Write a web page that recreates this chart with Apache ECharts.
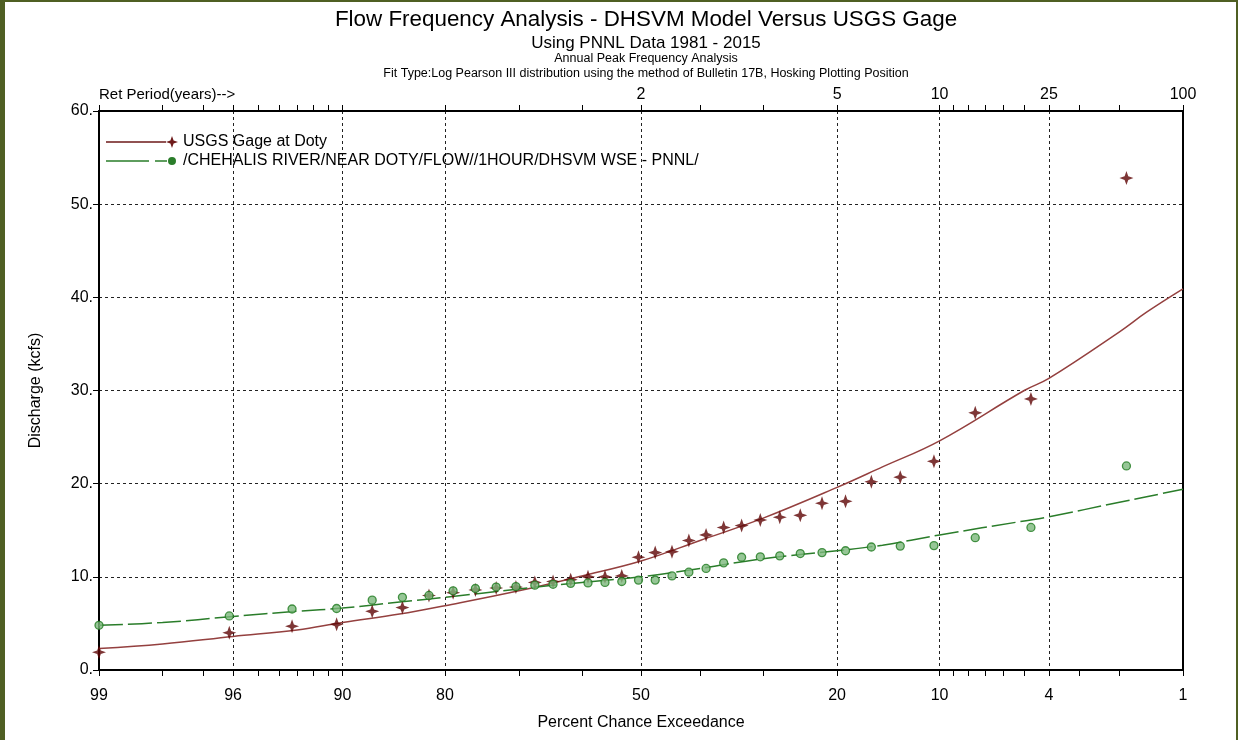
<!DOCTYPE html>
<html>
<head>
<meta charset="utf-8">
<script src="https://cdn.jsdelivr.net/npm/echarts@6/dist/echarts.min.js"></script>
<style>
  html, body { margin: 0; padding: 0; background: #ffffff; }
  #chart { width: 1238px; height: 740px; }
  .edge { position: absolute; background: #4f5f23; }
</style>
</head>
<body>
<div id="chart"></div>
<div class="edge" style="left:0;top:0;width:5px;height:740px"></div>
<div class="edge" style="left:0;top:0;width:1238px;height:2px"></div>
<div class="edge" style="left:1236px;top:0;width:2px;height:740px"></div>
<script>
  // plotting positions (percent chance exceedance), Hosking, 35 yrs
  const exceedance = [1.86, 4.71, 7.57, 10.43, 13.29, 16.14, 19.0, 21.86, 24.71, 27.57, 30.43, 33.29,
    36.14, 39.0, 41.86, 44.71, 47.57, 50.43, 53.29, 56.14, 59.0, 61.86, 64.71, 67.57, 70.43, 73.29,
    76.14, 79.0, 81.86, 84.71, 87.57, 90.43, 93.29, 96.14, 99.0]
  const usgsPeaks = [52.8, 29.1, 27.6, 22.4, 20.7, 20.2, 18.1, 17.9, 16.6, 16.4, 16.1, 15.5,
    15.3, 14.5, 13.9, 12.7, 12.6, 12.1, 10.1, 10.0, 10.0, 9.7, 9.5, 9.4, 8.9, 8.8,
    8.6, 8.3, 8.0, 6.7, 6.3, 4.9, 4.7, 4.0, 1.9]
  const dhsvmPeaks = [21.9, 15.3, 14.2, 13.35, 13.3, 13.2, 12.8, 12.6, 12.5, 12.25, 12.15, 12.1,
    11.5, 10.9, 10.5, 10.1, 9.65, 9.65, 9.5, 9.4, 9.35, 9.3, 9.2, 9.1, 8.95, 8.9,
    8.75, 8.5, 8.0, 7.8, 7.5, 6.6, 6.55, 5.8, 4.8]

  // fitted LP3 curves read at these exceedances
  const curveExceed = [99, 98, 96, 93, 90, 85, 80, 70, 60, 50, 40, 30, 20, 15, 10, 5, 4, 2, 1.5, 1]
  const usgsCurve = [2.3, 2.8, 3.6, 4.3, 5.1, 6.0, 6.9, 8.5, 10.1, 11.7, 13.9, 16.3, 19.6, 21.8, 24.6, 30.0, 31.3, 36.3, 38.4, 40.9]
  const dhsvmCurve = [4.8, 5.1, 5.75, 6.3, 6.65, 7.3, 7.8, 8.7, 9.4, 10.0, 10.9, 11.95, 12.8, 13.4, 14.5, 16.0, 16.45, 18.0, 18.6, 19.4]

  // axis ticks
  const bottomLabels = [99, 96, 90, 80, 50, 20, 10, 4, 1]
  const allTicks = [99, 98, 97, 96, 95, 94, 93, 92, 91, 90, 80, 70, 60, 50, 40, 30, 20, 10, 9, 8, 7, 6, 5, 4, 3, 2, 1]
  const gridTicks = [96, 90, 80, 50, 20, 10, 4]
  const retPeriods = [2, 5, 10, 25, 100]

  // inverse standard normal (Acklam) -> probability scale
  function normInv (p) {
    const a = [-3.969683028665376e+01, 2.209460984245205e+02, -2.759285104469687e+02, 1.383577518672690e+02, -3.066479806614716e+01, 2.506628277459239e+00]
    const b = [-5.447609879822406e+01, 1.615858368580409e+02, -1.556989798598866e+02, 6.680131188771972e+01, -1.328068155288572e+01]
    const c = [-7.784894002430293e-03, -3.223964580411365e-01, -2.400758277161838e+00, -2.549732539343734e+00, 4.374664141464968e+00, 2.938163982698783e+00]
    const d = [7.784695709041462e-03, 3.224671290700398e-01, 2.445134137142996e+00, 3.754408661907416e+00]
    let q, r
    if (p < 0.02425) {
      q = Math.sqrt(-2 * Math.log(p))
      return (((((c[0] * q + c[1]) * q + c[2]) * q + c[3]) * q + c[4]) * q + c[5]) / ((((d[0] * q + d[1]) * q + d[2]) * q + d[3]) * q + 1)
    }
    if (p <= 1 - 0.02425) {
      q = p - 0.5
      r = q * q
      return (((((a[0] * r + a[1]) * r + a[2]) * r + a[3]) * r + a[4]) * r + a[5]) * q / (((((b[0] * r + b[1]) * r + b[2]) * r + b[3]) * r + b[4]) * r + 1)
    }
    q = Math.sqrt(-2 * Math.log(1 - p))
    return -(((((c[0] * q + c[1]) * q + c[2]) * q + c[3]) * q + c[4]) * q + c[5]) / ((((d[0] * q + d[1]) * q + d[2]) * q + d[3]) * q + 1)
  }
  const zOf = pct => normInv(1 - pct / 100)
  const nearest = (v, list, fn) => list.reduce((best, t) => Math.abs(fn(t) - v) < Math.abs(fn(best) - v) ? t : best, list[0])

  const pair = (xs, ys) => xs.map((p, i) => [zOf(p), ys[i]])

  const font = '"Liberation Sans", Arial, sans-serif'
  const starPath = 'path://M0,-10 L2.6,-2.6 L10,0 L2.6,2.6 L0,10 L-2.6,2.6 L-10,0 L-2.6,-2.6 Z'
  // legend icons: line sample with the marker at its right end (72 x 12 box)
  const usgsIcon = 'path://M0,0 M72,12 M0,5.3 L60,5.3 L60,6.7 L0,6.7 Z M66,0 L67.6,4.4 L72,6 L67.6,7.6 L66,12 L64.4,7.6 L60,6 L64.4,4.4 Z'
  const dhsvmIcon = 'path://M0,0 M72,12 M0,5.3 L43,5.3 L43,6.7 L0,6.7 Z M49,5.3 L61,5.3 L61,6.7 L49,6.7 Z M70,6 A4,4 0 1,1 62,6 A4,4 0 1,1 70,6 Z'
  const usgsName = 'USGS Gage at Doty'
  const dhsvmName = '/CHEHALIS RIVER/NEAR DOTY/FLOW//1HOUR/DHSVM WSE - PNNL/'

  const xMin = zOf(99)
  const xMax = zOf(1)

  const chart = echarts.init(document.getElementById('chart'), null, { renderer: 'canvas' })
  const option = {
    animation: false,
    backgroundColor: '#ffffff',
    textStyle: { fontFamily: font, color: '#000' },
    title: [
      { text: 'Flow Frequency Analysis - DHSVM Model Versus USGS Gage', left: 641, top: 4, textAlign: 'center',
        textStyle: { fontSize: 22.4, fontWeight: 'normal', fontFamily: font, color: '#000' } },
      { text: 'Using PNNL Data 1981 - 2015', left: 641, top: 30, textAlign: 'center',
        textStyle: { fontSize: 17, fontWeight: 'normal', fontFamily: font, color: '#000' } },
      { text: 'Annual Peak Frequency Analysis', left: 641, top: 47, textAlign: 'center',
        textStyle: { fontSize: 12.5, fontWeight: 'normal', fontFamily: font, color: '#000' } },
      { text: 'Fit Type:Log Pearson III distribution using the method of Bulletin 17B, Hosking Plotting Position', left: 641, top: 62, textAlign: 'center',
        textStyle: { fontSize: 12.5, fontWeight: 'normal', fontFamily: font, color: '#000' } },
      { text: 'Ret Period(years)-->', left: 94, top: 82,
        textStyle: { fontSize: 15, fontWeight: 'normal', fontFamily: font, color: '#000' } }
    ],
    legend: {
      orient: 'vertical',
      left: 101,
      top: 129,
      itemWidth: 72,
      itemHeight: 12,
      itemGap: 3,
      itemStyle: { borderWidth: 0 },
      data: [
        { name: usgsName, icon: usgsIcon, itemStyle: { color: '#6e1a1a', borderWidth: 0 } },
        { name: dhsvmName, icon: dhsvmIcon, itemStyle: { color: '#2a7d2a', borderWidth: 0 } }
      ],
      textStyle: { fontSize: 16, fontFamily: font, color: '#000' }
    },
    grid: { left: 99, right: 55, top: 111, bottom: 70 },
    xAxis: [
      {
        type: 'value', position: 'bottom', min: xMin, max: xMax,
        name: 'Percent Chance Exceedance', nameLocation: 'middle', nameGap: 45,
        nameTextStyle: { fontSize: 16, fontFamily: font, color: '#000' },
        axisLine: { onZero: false, lineStyle: { color: '#000', width: 2 } },
        axisTick: { customValues: allTicks.map(zOf), length: 6, lineStyle: { color: '#000' } },
        axisLabel: {
          customValues: bottomLabels.map(zOf), margin: 18, fontSize: 16, color: '#000',
          formatter: v => String(nearest(v, bottomLabels, zOf))
        },
        splitLine: { show: false }
      },
      {
        type: 'value', position: 'top', min: xMin, max: xMax,
        axisLine: { onZero: false, lineStyle: { color: '#000', width: 2 } },
        axisTick: { customValues: allTicks.map(zOf), length: 6, lineStyle: { color: '#000' } },
        axisLabel: {
          customValues: retPeriods.map(t => zOf(100 / t)), margin: 8, fontSize: 16, color: '#000',
          formatter: v => String(nearest(v, retPeriods, t => zOf(100 / t)))
        },
        splitLine: { show: false }
      },
      {
        type: 'value', min: xMin, max: xMax,
        axisLine: { show: false, onZero: false },
        axisTick: { show: false, customValues: gridTicks.map(zOf) },
        axisLabel: { show: false },
        splitLine: { show: true, lineStyle: { color: '#222', type: [3, 3], width: 1 } }
      }
    ],
    yAxis: [
      {
        type: 'value', min: 0, max: 60, interval: 10,
        name: 'Discharge (kcfs)', nameLocation: 'middle', nameGap: 55, nameRotate: 90,
        nameTextStyle: { fontSize: 16, fontFamily: font, color: '#000' },
        axisLine: { show: true, onZero: false, lineStyle: { color: '#000', width: 2 } },
        axisTick: { show: true, length: 6, lineStyle: { color: '#000' } },
        axisLabel: { fontSize: 16, color: '#000', margin: 6, formatter: v => v + '.' },
        splitLine: { show: true, lineStyle: { color: '#222', type: [3, 3], width: 1 } }
      },
      {
        type: 'value', min: 0, max: 60, position: 'right',
        axisLine: { show: true, onZero: false, lineStyle: { color: '#000', width: 2 } },
        axisTick: { show: false },
        axisLabel: { show: false },
        splitLine: { show: false }
      }
    ],
    series: [
      {
        name: usgsName, type: 'line', smooth: 0.4, showSymbol: false,
        symbol: starPath, symbolSize: 12,
        itemStyle: { color: '#5e0404' },
        lineStyle: { color: '#94403f', width: 1.5 },
        data: pair(curveExceed, usgsCurve), z: 2
      },
      {
        name: dhsvmName, type: 'line', smooth: 0.4, showSymbol: false,
        symbol: 'circle', symbolSize: 8,
        itemStyle: { color: '#7cb87c', borderColor: '#1f7a1f', borderWidth: 1.3 },
        lineStyle: { color: '#2a7d2a', width: 1.5, type: [24, 5] },
        data: pair(curveExceed, dhsvmCurve), z: 2
      },
      {
        name: usgsName, type: 'scatter',
        symbol: starPath, symbolSize: 14,
        itemStyle: { color: '#5e0404' },
        data: pair(exceedance, usgsPeaks), z: 3
      },
      {
        name: dhsvmName, type: 'scatter',
        symbol: 'circle', symbolSize: 8,
        itemStyle: { color: '#7cb87c', borderColor: '#1f7a1f', borderWidth: 1.3 },
        data: pair(exceedance, dhsvmPeaks), z: 4
      }
    ]
  }
  chart.setOption(option)
</script>
</body>
</html>
